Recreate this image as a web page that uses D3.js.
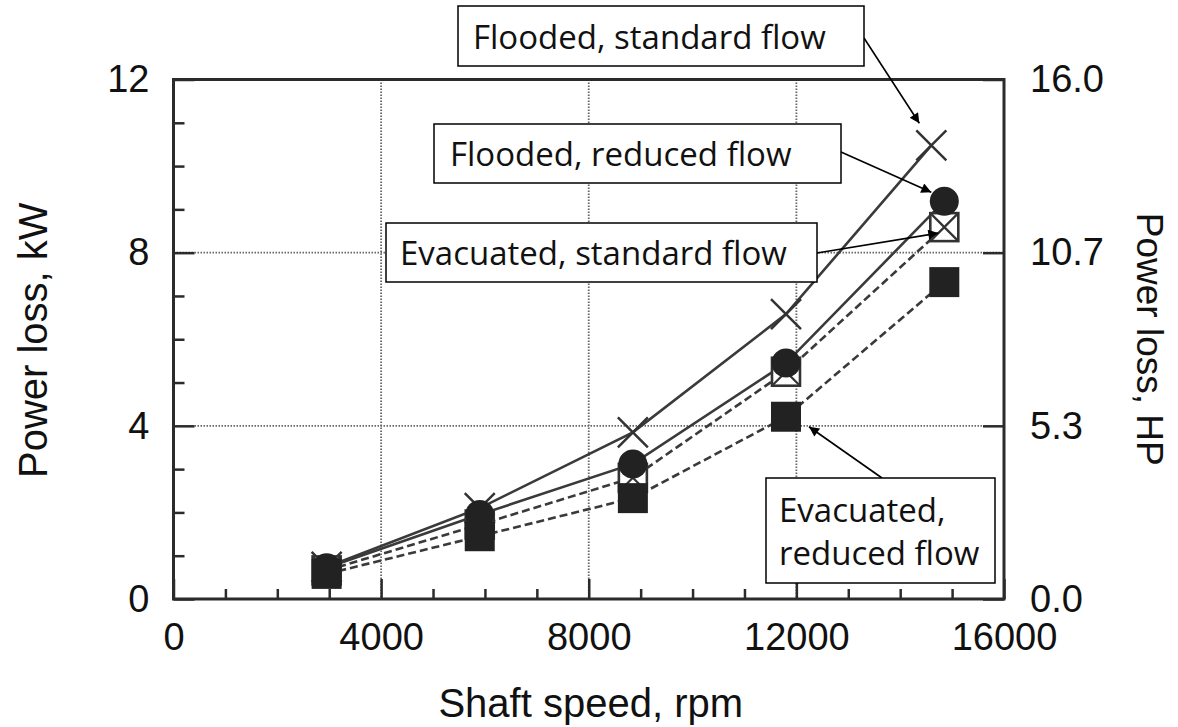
<!DOCTYPE html>
<html>
<head>
<meta charset="utf-8">
<script src="https://cdn.jsdelivr.net/npm/d3@7"></script>
<style>
  html, body { margin: 0; padding: 0; background: #fff; }
  svg { display: block; }
</style>
</head>
<body>
<svg id="chart" width="1178" height="727"></svg>
<script>
// ---------------- data ----------------
const speeds          = [2950, 5900, 8850, 11800, 14850];   // rpm
const speedsFloodStd  = [2950, 5900, 8850, 11800, 14600];   // rpm (last point slightly left)
const floodedStandard = [0.74, 2.10, 3.85, 6.58, 10.48];    // kW
const floodedReduced  = [0.72, 1.95, 3.12, 5.45, 9.19];     // kW
const evacStandard    = [0.66, 1.72, 2.80, 5.25, 8.59];     // kW
const evacReduced     = [0.58, 1.45, 2.33, 4.21, 7.32];     // kW

const xTicks      = [0, 4000, 8000, 12000, 16000];
const yTicks      = [0, 4, 8, 12];
const yRightTicks = [0, 16/3, 32/3, 16];
const yRightLabels = ["0.0", "5.3", "10.7", "16.0"];

const xTitle = "Shaft speed, rpm";
const yTitle = "Power loss, kW";
const yRightTitle = "Power loss, HP";

// ---------------- layout ----------------
const L = 173.5, R = 1004, T = 79.5, B = 599;
const svg = d3.select("#chart");
const x  = d3.scaleLinear().domain([0, 16000]).range([L, R]);
const y  = d3.scaleLinear().domain([0, 12]).range([B, T]);
const yR = d3.scaleLinear().domain([0, 16]).range([B, T]);

const ink = "#2b2b2b";
const fontAxis = "'Liberation Sans', Arial, sans-serif";
const fontNote = "'Open Sans', sans-serif";

// gridlines
const grid = svg.append("g");
[4000, 8000, 12000].forEach(v => {
  grid.append("line").attr("x1", x(v)).attr("x2", x(v)).attr("y1", T).attr("y2", B)
    .attr("stroke", "#666").attr("stroke-width", 1.8).attr("stroke-dasharray", "1.5,1.5");
});
[4, 8].forEach(v => {
  grid.append("line").attr("x1", L).attr("x2", R).attr("y1", y(v)).attr("y2", y(v))
    .attr("stroke", "#666").attr("stroke-width", 1.8).attr("stroke-dasharray", "1.5,1.5");
});

// axes using d3 axes (ticks inward)
const xMinor = d3.range(0, 16001, 1000).filter(v => v % 4000 !== 0);
const yMinor = d3.range(0, 13, 1).filter(v => v % 4 !== 0);

const axB = svg.append("g").attr("transform", `translate(0,${B})`)
  .call(d3.axisBottom(x).tickValues(xTicks).tickSize(-20).tickPadding(24).tickFormat(d3.format("d")));
svg.append("g").attr("transform", `translate(0,${B})`)
  .call(d3.axisBottom(x).tickValues(xMinor).tickSize(-10).tickFormat(""));
const axL = svg.append("g").attr("transform", `translate(${L},0)`)
  .call(d3.axisLeft(y).tickValues(yTicks).tickSize(-21).tickPadding(24).tickFormat(d3.format("d")));
svg.append("g").attr("transform", `translate(${L},0)`)
  .call(d3.axisLeft(y).tickValues(yMinor).tickSize(-11).tickFormat(""));
const axR = svg.append("g").attr("transform", `translate(${R},0)`)
  .call(d3.axisRight(yR).tickValues(yRightTicks).tickSize(-21).tickPadding(26)
    .tickFormat((d, i) => yRightLabels[i]));

svg.selectAll(".domain").remove();
svg.selectAll(".tick line").attr("stroke", ink).attr("stroke-width", 2.5);
svg.selectAll(".tick text").attr("fill", "#111").style("font-family", fontAxis).style("font-size", "38px");
axB.selectAll(".tick text").attr("dy", "0.71em");

// frame
svg.append("rect").attr("x", L).attr("y", T).attr("width", R - L).attr("height", B - T)
  .attr("fill", "none").attr("stroke", ink).attr("stroke-width", 3);

// axis titles
svg.append("text").attr("x", (L + R) / 2 + 2).attr("y", 717).attr("text-anchor", "middle")
  .style("font-family", fontAxis).style("font-size", "40px").attr("fill", "#111").text(xTitle);
svg.append("text").attr("transform", `translate(47,${(T + B) / 2 + 1}) rotate(-90)`).attr("text-anchor", "middle")
  .style("font-family", fontAxis).style("font-size", "40px").attr("fill", "#111").text(yTitle);
svg.append("text").attr("transform", `translate(1137,${(T + B) / 2}) rotate(90)`).attr("text-anchor", "middle")
  .style("font-family", fontAxis).style("font-size", "37px").attr("fill", "#111").text(yRightTitle);

// ---------------- series ----------------
const lineGen = d3.line().x(d => x(d[0])).y(d => y(d[1]));
const series = [
  { name: "Flooded, standard flow",   sx: speedsFloodStd, v: floodedStandard, dash: null,  marker: "x" },
  { name: "Flooded, reduced flow",    sx: speeds,         v: floodedReduced,  dash: null,  marker: "circle" },
  { name: "Evacuated, standard flow", sx: speeds,         v: evacStandard,    dash: "8,4", marker: "boxx" },
  { name: "Evacuated, reduced flow",  sx: speeds,         v: evacReduced,     dash: "8,4", marker: "square" }
];
series.forEach(s => {
  s.pts = s.sx.map((sp, i) => [sp, s.v[i]]);
  svg.append("path").datum(s.pts).attr("d", lineGen).attr("fill", "none")
    .attr("stroke", "#3a3a3a").attr("stroke-width", 2.6)
    .attr("stroke-dasharray", s.dash);
});

// markers: order X, box-X, circle, square
const mk = svg.append("g");
function drawMarkers(s) {
  s.pts.forEach(p => {
    const cx = x(p[0]), cy = y(p[1]);
    if (s.marker === "x") {
      const h = 15;
      mk.append("path").attr("d", `M${cx-h},${cy-h}L${cx+h},${cy+h}M${cx-h},${cy+h}L${cx+h},${cy-h}`)
        .attr("stroke", "#333").attr("stroke-width", 2.5).attr("fill", "none");
    } else if (s.marker === "boxx") {
      const h = 14;
      mk.append("rect").attr("x", cx-h).attr("y", cy-h).attr("width", 2*h).attr("height", 2*h)
        .attr("fill", "#fff").attr("stroke", "#333").attr("stroke-width", 2.6);
      mk.append("path").attr("d", `M${cx-h},${cy-h}L${cx+h},${cy+h}M${cx-h},${cy+h}L${cx+h},${cy-h}`)
        .attr("stroke", "#333").attr("stroke-width", 2.2);
    } else if (s.marker === "circle") {
      mk.append("circle").attr("cx", cx).attr("cy", cy).attr("r", 14.5).attr("fill", "#222");
    } else {
      const h = 15;
      mk.append("rect").attr("x", cx-h).attr("y", cy-h).attr("width", 2*h).attr("height", 2*h)
        .attr("fill", "#222");
    }
  });
}
[series[0], series[2], series[1], series[3]].forEach(drawMarkers);

// ---------------- annotations ----------------
const defs = svg.append("defs");
defs.append("marker").attr("id", "arr").attr("viewBox", "0 0 10 10").attr("refX", 10).attr("refY", 5)
  .attr("markerWidth", 14).attr("markerHeight", 10).attr("markerUnits", "userSpaceOnUse").attr("orient", "auto")
  .append("path").attr("d", "M0,0L10,5L0,10Z").attr("fill", "#000");

const notes = [
  { lines: ["Flooded, standard flow"],   box: [458, 6, 406, 60],   tx: 473, ty: [49],
    from: [864, 38],  series: 0, idx: 4, off: [-12, -22] },
  { lines: ["Flooded, reduced flow"],    box: [434, 124, 407, 59], tx: 450, ty: [166],
    from: [841, 152], series: 1, idx: 4, off: [-13, -9] },
  { lines: ["Evacuated, standard flow"], box: [386, 223, 431, 59], tx: 400, ty: [265],
    from: [817, 253], series: 2, idx: 4, off: [-6, 6] },
  { lines: ["Evacuated,", "reduced flow"], box: [766, 478, 229, 105], tx: 779, ty: [522, 565],
    from: [882, 478], series: 3, idx: 3, off: [23, 10] }
];
notes.forEach(n => {
  const s = series[n.series];
  const p = s.pts[n.idx];
  svg.append("line").attr("x1", n.from[0]).attr("y1", n.from[1])
    .attr("x2", x(p[0]) + n.off[0]).attr("y2", y(p[1]) + n.off[1])
    .attr("stroke", "#000").attr("stroke-width", 1.6).attr("marker-end", "url(#arr)");
  svg.append("rect").attr("x", n.box[0]).attr("y", n.box[1]).attr("width", n.box[2]).attr("height", n.box[3])
    .attr("fill", "#fff").attr("stroke", "#000").attr("stroke-width", 1.5);
  n.lines.forEach((t, i) => {
    svg.append("text").attr("x", n.tx).attr("y", n.ty[i]).text(t)
      .style("font-family", fontNote).style("font-size", "33px").attr("fill", "#111");
  });
});
</script>
</body>
</html>
